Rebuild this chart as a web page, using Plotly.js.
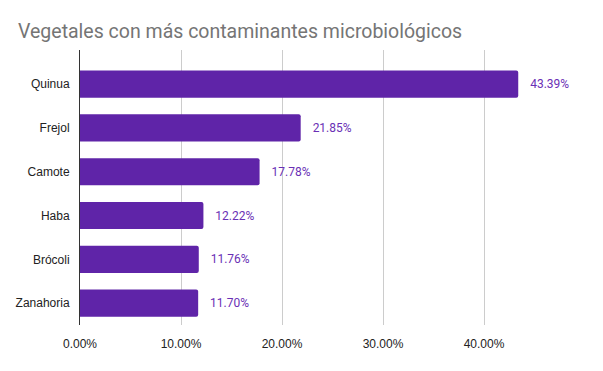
<!DOCTYPE html>
<html>
<head>
<meta charset="utf-8">
<script src="https://cdn.plot.ly/plotly-3.0.1.min.js"></script>
<style>html,body{margin:0;padding:0;background:#fff;}#chart{width:603px;height:371px;}</style>
</head>
<body>
<div id="chart"></div>
<script>
const categories = ["Quinua", "Frejol", "Camote", "Haba", "Brócoli", "Zanahoria"];
const values = [0.4339, 0.2185, 0.1778, 0.1222, 0.1176, 0.1170];
const tickValues = [0, 0.1, 0.2, 0.3, 0.4, 0.5];
const tickLabels = ["0.00%", "10.00%", "20.00%", "30.00%", "40.00%", ""];

const trace = {
  type: "bar",
  orientation: "h",
  x: values,
  y: categories,
  marker: {color: "#5f24a8", cornerradius: 2},
  texttemplate: "   %{x:.2%}",
  textposition: "outside",
  cliponaxis: false,
  textfont: {family: "Roboto, Arial, sans-serif", size: 12, color: "#6a2fb5"},
  hoverinfo: "none"
};

const layout = {
  width: 603, height: 371,
  margin: {l: 80, r: 18, t: 50, b: 46},
  paper_bgcolor: "#fff", plot_bgcolor: "#fff",
  bargap: 0.38,
  showlegend: false,
  title: {
    text: "Vegetales con más contaminantes microbiológicos",
    font: {family: "Roboto, Arial, sans-serif", size: 19.5, color: "#757575"},
    x: 0, xref: "paper", xanchor: "left", y: 0.915, yref: "container", yanchor: "middle",
    pad: {l: -62}
  },
  xaxis: {
    range: [0, 0.5],
    tickvals: tickValues,
    ticktext: tickLabels,
    showgrid: true, gridcolor: "#cccccc", gridwidth: 1,
    zeroline: false, showline: false, ticks: "",
    ticklabelstandoff: 10,
    tickfont: {family: "Liberation Sans, Arial, sans-serif", size: 12, color: "#222"},
    fixedrange: true
  },
  yaxis: {
    type: "category",
    categoryorder: "array", categoryarray: categories,
    range: [5.5, -0.78],
    showline: true, linecolor: "#333", linewidth: 1,
    showgrid: false, zeroline: false, ticks: "",
    ticklabelstandoff: 7,
    tickfont: {family: "Liberation Sans, Arial, sans-serif", size: 12, color: "#222"},
    fixedrange: true
  }
};

Plotly.newPlot("chart", [trace], layout, {staticPlot: true, displayModeBar: false});
</script>
</body>
</html>
